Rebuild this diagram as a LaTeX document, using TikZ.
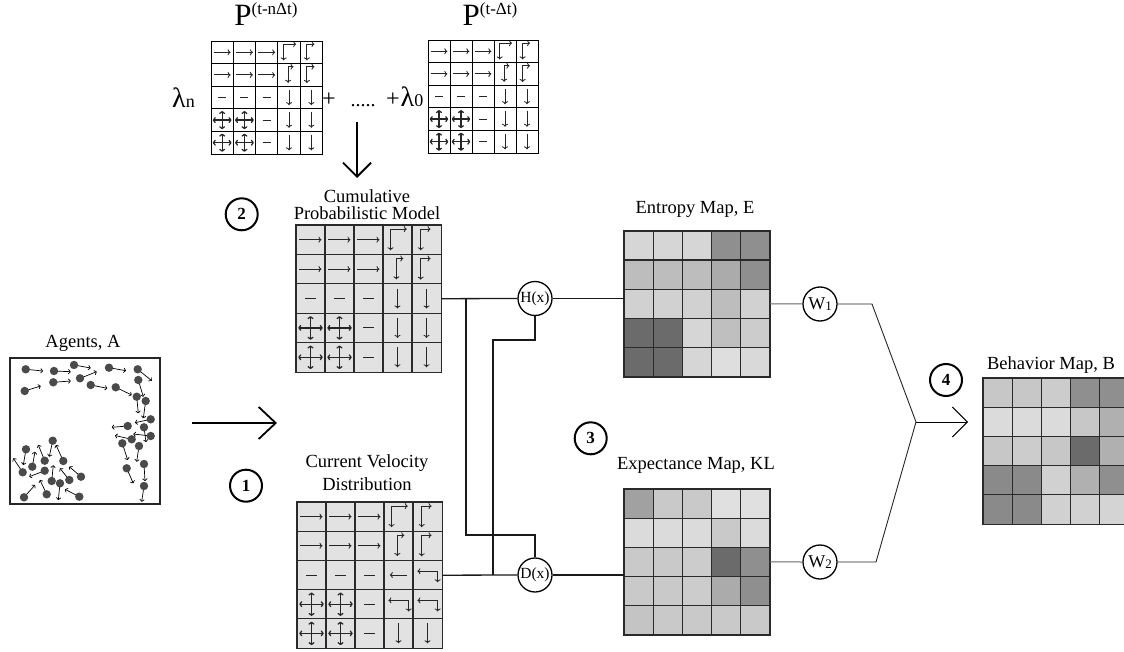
\documentclass[tikz,border=0pt]{standalone}
\usepackage{fontspec}
\setmainfont{Liberation Serif}
\usetikzlibrary{arrows.meta,calc}
\definecolor{dotc}{HTML}{4A4A4A}
\definecolor{gline}{HTML}{2A2A2A}
\definecolor{cellbg}{HTML}{E2E2E2}
\tikzset{
  sy/.style={line width=0.85pt, color=black!85},
  ga/.style={sy, -{To[length=3pt,width=6pt]}},
  gab/.style={sy, {To[length=3pt,width=6pt]}-{To[length=3pt,width=6pt]}},
  thingrid/.style={line width=0.9pt, color=black},
  mapgrid/.style={line width=1.2pt, color=gline},
  conn/.style={line width=1.3pt, color=black!90},
  wline/.style={line width=1pt, color=black!60},
  mline/.style={line width=0.9pt, color=black!85},
  bigarrow/.style={line width=1.8pt, -{Straight Barb[length=17pt,width=32pt]}},
  downarrow/.style={line width=1.8pt, -{Straight Barb[length=14pt,width=28pt]}},
  mergearrow/.style={line width=1pt, -{Straight Barb[length=15pt,width=30pt]}},
  agarrow/.style={line width=0.7pt, -{To[length=2.6pt,width=5pt]}},
  lbl/.style={inner sep=0pt, font=\fontsize{18.5}{17}\selectfont},
  numc/.style={circle, draw, line width=2pt, minimum size=32pt, inner sep=0pt,
    font=\bfseries\fontsize{17}{17}\selectfont},
  opc/.style={circle, draw, line width=1.3pt, minimum size=34pt, inner sep=0pt,
    fill=white, font=\fontsize{15.5}{15.5}\selectfont},
}
\newcommand\symAR{\draw[ga] (-0.38,0)--(0.38,0);}
\newcommand\symDA{\draw[sy] (-0.18,0)--(0.18,0);}
\newcommand\symDN{\draw[ga] (0,-0.34)--(0,0.34);}
\newcommand\symLA{\draw[ga] (0.3,0)--(-0.3,0);}
\newcommand\symCW{\draw[gab] (-0.24,0.36)--(-0.24,-0.36)--(0.32,-0.36);}
\newcommand\symCN{\draw[gab] (-0.2,0.36)--(-0.2,-0.36)--(0.14,-0.36);}
\newcommand\symCM{\draw[gab] (-0.04,0.35)--(-0.04,-0.36)--(0.2,-0.36);}
\newcommand\symCX{\draw[gab,line width=1.25pt] (-0.42,0)--(0.42,0);
  \draw[gab,line width=1.25pt] (0,-0.4)--(0,0.4);}
\newcommand\symBK{\draw[gab] (-0.35,-0.13)--(0.35,-0.13)--(0.35,0.25);}
% #1 name #2 x0 #3 y0 #4 cw #5 ch #6 fill #7 line style #8 rows
\newcommand\symgrid[8]{%
  \node[anchor=north west, minimum width={5*#4}, minimum height={5*#5}, inner sep=0pt, fill=#6] (#1) at (#2,#3) {};
  \foreach \row [count=\ri] in {#8} {
    \foreach \s [count=\ci] in \row {
      \begin{scope}[shift={({#2+#4*(\ci-0.5)},{#3+#5*(\ri-0.5)})}, xscale=#4, yscale=#5]
        \csname sym\s\endcsname
      \end{scope}
    }
  }
  \draw[#7] (#1.north west) rectangle (#1.south east);
  \foreach \k in {1,2,3,4} {
    \draw[#7] ({#2+#4*\k},#3) -- ++(0,{5*#5});
    \draw[#7] (#2,{#3+#5*\k}) -- ++({5*#4},0);
  }
}
% #1 name #2 x0 #3 y0 #4 cell #5 rows
\newcommand\shadegrid[5]{%
  \node[anchor=north west, minimum size={5*#4}, inner sep=0pt] (#1) at (#2,#3) {};
  \foreach \row [count=\ri] in {#5} {
    \foreach \v [count=\ci] in \row {
      \fill[white!\v!black] ({#2+#4*(\ci-1)},{#3+#4*(\ri-1)}) rectangle ++(#4,#4);
    }
  }
  \draw[mapgrid] (#1.north west) rectangle (#1.south east);
  \foreach \k in {1,2,3,4} {
    \draw[mapgrid] ({#2+#4*\k},#3) -- ++(0,{5*#4});
    \draw[mapgrid] (#2,{#3+#4*\k}) -- ++({5*#4},0);
  }
}
\begin{document}
\begin{tikzpicture}[x=1pt,y=-1pt]
\clip (0,0) rectangle (1124,652);
\fill[white] (0,0) rectangle (1124,652);

% ---- top: weighted sum of past models ----
\node[anchor=base, inner sep=0pt] (pn) at (266,26)
  {\fontsize{31}{31}\selectfont P\raisebox{11pt}{\fontsize{17}{17}\selectfont (t-nΔt)}};
\node[anchor=base, inner sep=0pt] (p1) at (490,26)
  {\fontsize{31}{31}\selectfont P\raisebox{11pt}{\fontsize{17}{17}\selectfont (t-Δt)}};
\node[anchor=base west, inner sep=0pt] (ln) at (172,108)
  {\fontsize{28}{28}\selectfont λ\fontsize{18}{18}\selectfont n};
\node[anchor=base, inner sep=0pt] (plusa) at (329,107) {\fontsize{24}{24}\selectfont +};
\node[anchor=base, inner sep=0pt] (dots) at (363,107) {\fontsize{20}{20}\selectfont .....};
\node[anchor=base west, inner sep=0pt] (l0) at (386,107)
  {\fontsize{24}{24}\selectfont +\kern1pt\fontsize{28}{28}\selectfont λ\fontsize{18}{18}\selectfont 0};

\symgrid{pA}{211}{41}{22.3}{22.6}{white}{thingrid}{{AR,AR,AR,CW,CN},{AR,AR,AR,CM,CN},{DA,DA,DA,DN,DN},{CX,CX,DA,DN,DN},{CX,CX,DA,DN,DN}}
\symgrid{pB}{428}{40}{22}{22.6}{white}{thingrid}{{AR,AR,AR,CW,CN},{AR,AR,AR,CM,CN},{DA,DA,DA,DN,DN},{CX,CX,DA,DN,DN},{CX,CX,DA,DN,DN}}

\coordinate (da1) at (357,122);
\coordinate (da2) at (357,178);
\draw[downarrow] (da1) -- (da2);

% ---- cumulative probabilistic model ----
\node[numc] (n2) at (241.7,214.3) {2};
\node[lbl, anchor=north, align=center, font=\fontsize{18.5}{17.3}\selectfont] (cpml) at (367,189.3)
  {Cumulative\\Probabilistic Model};
\symgrid{cpm}{296}{225}{29}{29.4}{cellbg}{mapgrid}{{AR,AR,AR,CW,CN},{AR,AR,AR,CM,CN},{DA,DA,DA,DN,DN},{CX,CX,DA,DN,DN},{CX,CX,DA,DN,DN}}

% ---- current velocity distribution ----
\node[numc] (n1) at (246,485.7) {1};
\node[lbl, anchor=north, align=center, font=\fontsize{18.5}{22.7}\selectfont] (cvdl) at (367,454.7)
  {Current Velocity\\Distribution};
\symgrid{cvd}{297}{502}{29}{29.2}{cellbg}{mapgrid}{{AR,AR,AR,CW,CN},{AR,AR,AR,CM,CN},{DA,DA,DA,LA,BK},{CX,CX,DA,BK,BK},{CX,CX,DA,DN,DN}}

% ---- agents ----
\node[lbl, anchor=base] (agl) at (83,347.7) {Agents, A};
\node[draw, line width=1.5pt, color=black!85, anchor=north west, minimum width=150pt, minimum height=146pt, inner sep=0pt] (agents) at (9,357) {};
\foreach \ax/\ay/\bx/\by in {
  25.7/369.3/43/371, 54/371/70.7/371.7, 74/365/90.7/368, 109/367.7/126/370.7,
  137.7/369.3/151.7/380.7, 24.7/391/40.7/386, 53.3/382.3/70.7/381, 80/378.3/96.7/371.7,
  90.7/385/107.3/388.3, 115.7/387.3/131.7/395, 138.3/380/143.3/396.7, 136.7/396.7/138.3/413.3,
  145.7/401/143.3/418.3, 150.7/419.3/135/422.7, 127.7/426/111.7/427.3, 144/427.3/146/442,
  150.7/436/133.3/434, 131.7/439.3/115/435.5, 139/446/136.7/461.7, 122.3/443.3/127.7/460,
  144/464/145/481, 126.7/468.3/133.3/483.3, 144/486/141.7/501.7,
  52.7/440.7/49.3/456.7, 26/449.3/23.3/465, 44.7/460.7/38.3/445, 32.3/466.7/35/451.7,
  63.3/461/56/445, 22.7/472.3/13.3/458.3, 44.7/470.7/29.3/476.7, 51.7/481/53.3/465.3,
  60/483.3/58.3/500, 69.3/480/60/468.3, 81/476.7/69.3/466.7, 24/497.3/35/485,
  46.7/494.3/40/480, 79.3/496.7/65/489.3} {
  \draw[agarrow] (\ax,\ay) -- (\bx,\by);
  \fill[dotc] (\ax,\ay) circle (4.2pt);
}
\coordinate (aa1) at (192,423);
\coordinate (aa2) at (277,423);
\draw[bigarrow] (aa1) -- (aa2);

% ---- operators ----
\node[opc] (hx) at (535,298.5) {H(x)};
\node[opc] (dx) at (535,575) {D(x)};

% ---- entropy / expectance maps ----
\node[lbl, anchor=base] (eml) at (695,213.3) {Entropy Map, E};
\shadegrid{em}{624}{231}{29.1}{{84,84,84,56,56},{74,74,74,67,56},{82,82,82,74,82},{42,42,84,75,80},{42,42,84,87,85}}
\node[numc] (n3) at (590.7,438.3) {3};
\node[lbl, anchor=base] (kll) at (696,469.3) {Expectance Map, KL};
\shadegrid{kl}{624}{489}{29.1}{{63,79,79,88,88},{86,86,86,79,86},{79,79,80,42,56},{79,79,80,67,56},{77,79,79,79,79}}

% ---- connectors ----
\coordinate (j1) at (466,298.5);
\coordinate (j1t) at (466,535);
\coordinate (j2) at (493,575);
\coordinate (j2t) at (493,340);
\draw[conn] (cpm.east) -- (hx.west);
\draw[conn] (hx.east) -- (hx.east -| em.west);
\draw[conn] (cvd.east) -- (dx.west);
\draw[conn] (dx.east) -- (dx.east -| kl.west);
\draw[conn] (j1) -- (j1t) -| (dx.north);
\draw[conn] (j2) -- (j2t) -| (hx.south);

% ---- weights ----
\node[opc] (w1) at (820,304) {\fontsize{18}{18}\selectfont W\raisebox{-1.5pt}{\fontsize{13}{13}\selectfont 1}};
\node[opc] (w2) at (820,562) {\fontsize{18}{18}\selectfont W\raisebox{-1.5pt}{\fontsize{13}{13}\selectfont 2}};
\draw[wline] (em.east) -- (w1.west);
\draw[wline] (kl.east) -- (w2.west);
\coordinate (k1) at (872,304);
\coordinate (k2) at (876,562);
\coordinate (mg) at (916,422);
\coordinate (btip) at (968,422);
\draw[mline] (w1.east) -- (k1) -- (mg);
\draw[mline] (w2.east) -- (k2) -- (mg);
\draw[mergearrow] (mg) -- (btip);

% ---- behavior map ----
\node[numc] (n4) at (946,380) {4};
\node[lbl, anchor=base] (bml) at (1051,369.3) {Behavior Map, B};
\shadegrid{bm}{983}{378}{29.2}{{78,78,80,56,56},{86,86,86,78,69},{78,80,78,42,69},{54,54,82,69,56},{54,54,82,82,83}}
\end{tikzpicture}
\end{document}
